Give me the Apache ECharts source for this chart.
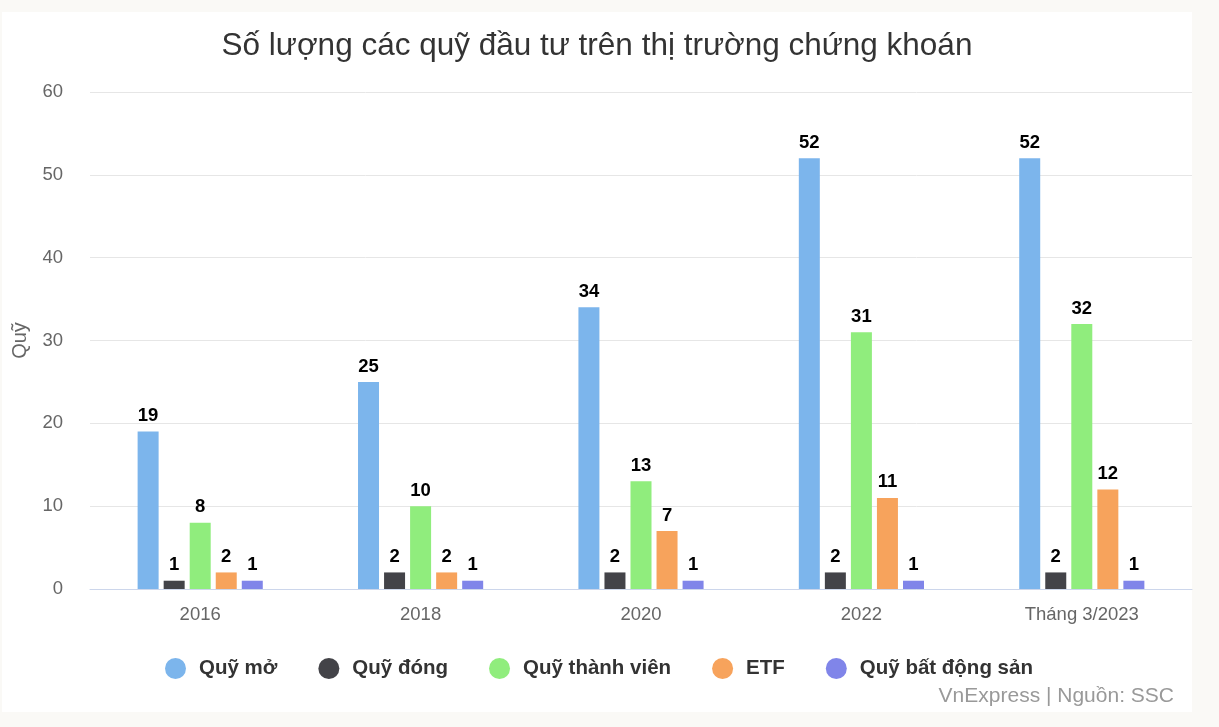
<!DOCTYPE html>
<html>
<head>
<meta charset="utf-8">
<script src="https://cdn.jsdelivr.net/npm/echarts@6/dist/echarts.min.js"></script>
<style>
html,body{margin:0;padding:0;background:#faf9f6;}
#c{width:1219px;height:727px;}
</style>
</head>
<body>
<div id="c"></div>
<script>
const categories = ['2016', '2018', '2020', '2022', 'Tháng 3/2023'];
const seriesNames = ['Quỹ mở', 'Quỹ đóng', 'Quỹ thành viên', 'ETF', 'Quỹ bất động sản'];
const quyMo = [19, 25, 34, 52, 52];
const quyDong = [1, 2, 2, 2, 2];
const quyThanhVien = [8, 10, 13, 31, 32];
const etf = [2, 2, 7, 11, 12];
const quyBDS = [1, 1, 1, 1, 1];
const yTicks = [0, 10, 20, 30, 40, 50, 60];
const colors = ['#7cb5ec', '#434348', '#90ed7d', '#f7a35c', '#8085e9'];
const values = [quyMo, quyDong, quyThanhVien, etf, quyBDS];

const font = 'Arial, "Liberation Sans", sans-serif';
const chart = echarts.init(document.getElementById('c'));
chart.setOption({
  backgroundColor: '#faf9f6',
  animation: false,
  color: colors,
  textStyle: { fontFamily: font },
  graphic: [
    { type: 'rect', z: -10, shape: { x: 2, y: 12, width: 1190, height: 700 }, style: { fill: '#ffffff' } },
    { type: 'text', right: 45, top: 686, style: { text: 'VnExpress | Nguồn: SSC', fill: '#999999', font: '21px ' + font } }
  ],
  title: {
    text: 'Số lượng các quỹ đầu tư trên thị trường chứng khoán',
    left: 592, textAlign: 'center', top: 25,
    textStyle: { fontSize: 31.5, fontWeight: 'normal', color: '#333333', fontFamily: font }
  },
  legend: {
    bottom: 43, left: 160,
    icon: 'circle', itemWidth: 21, itemHeight: 21, itemGap: 41,
    textStyle: { fontSize: 20.5, fontWeight: 'bold', color: '#333333', fontFamily: font, padding: [0, 0, 0, 8] },
    data: seriesNames
  },
  grid: { left: 90, right: 27, top: 92, bottom: 138, containLabel: false, outerBoundsMode: 'none' },
  xAxis: {
    type: 'category', data: categories,
    axisLine: { lineStyle: { color: '#ccd6eb' } },
    axisTick: { show: false },
    axisLabel: { color: '#666666', fontSize: 18.5, margin: 16, fontFamily: font }
  },
  yAxis: {
    type: 'value', min: yTicks[0], max: yTicks[yTicks.length - 1], interval: 10,
    name: 'Quỹ', nameLocation: 'middle', nameRotate: 90, nameGap: 60,
    nameTextStyle: { color: '#666666', fontSize: 20, fontFamily: font },
    axisLine: { show: false }, axisTick: { show: false },
    axisLabel: { color: '#666666', fontSize: 18.5, margin: 27, fontFamily: font },
    splitLine: { lineStyle: { color: '#e6e6e6' } }
  },
  series: seriesNames.map((n, i) => ({
    name: n, type: 'bar', data: values[i],
    barWidth: 21, barGap: '24%',
    itemStyle: { color: colors[i] },
    label: { show: true, position: 'top', distance: 6, color: '#000000', fontSize: 18.5, fontWeight: 'bold', fontFamily: font }
  }))
});
</script>
</body>
</html>
